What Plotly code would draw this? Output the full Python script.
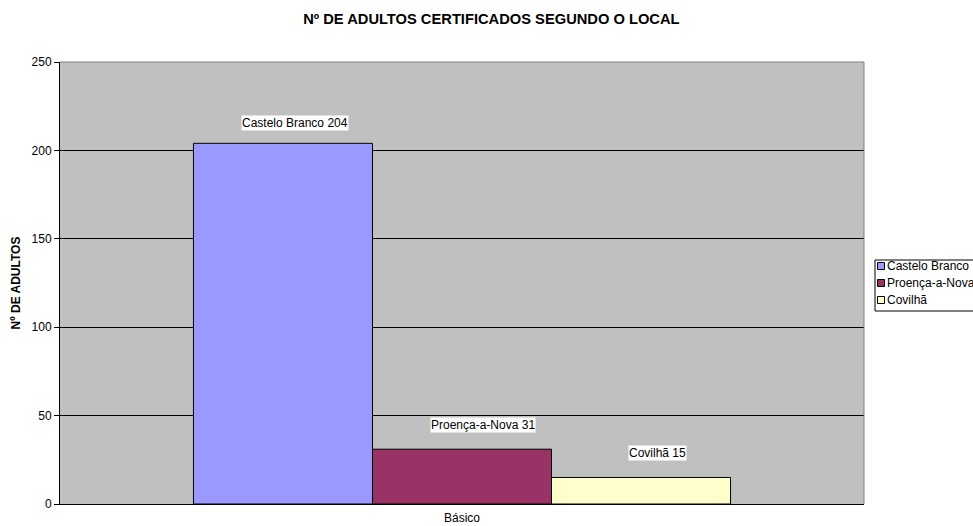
import plotly.graph_objects as go

categories = ["Básico"]
series_names = ["Castelo Branco", "Proença-a-Nova", "Covilhã"]
series_values = [204, 31, 15]
series_colors = ["#9999FF", "#993366", "#FFFFCC"]
y_ticks = [0, 50, 100, 150, 200, 250]

# data-label nudges (pixels) to match the reference placement
label_xshift = [12, 21, 16]
label_yshift = [20, 24, 24]

FONT = "Liberation Sans, Arial, sans-serif"
bargap = 0.332
W, H = 973, 526
ML, MR, MT, MB = 60, 109, 62, 22
PW, PH = W - ML - MR, H - MT - MB


def px(x):
    return (x - ML) / PW


def py(y):
    return (H - MB - y) / PH


fig = go.Figure()
for name, val, col in zip(series_names, series_values, series_colors):
    fig.add_trace(go.Bar(
        x=categories, y=[val], name=name, showlegend=False,
        marker=dict(color=col, line=dict(color="black", width=1)),
    ))

n = len(series_names)
w = (1 - bargap) / n
for i, (name, val) in enumerate(zip(series_names, series_values)):
    fig.add_annotation(
        x=(i - (n - 1) / 2) * w, y=val, xref="x", yref="y",
        text=f"{name} {val}", showarrow=False,
        xshift=label_xshift[i], yshift=label_yshift[i],
        bgcolor="white", font=dict(family=FONT, size=12, color="black"),
        borderpad=0,
    )

# legend (drawn box, clipped at the right edge like the reference)
fig.add_shape(type="rect", xref="paper", yref="paper",
              x0=px(875), x1=px(990), y0=py(311), y1=py(260),
              line=dict(color="black", width=1), fillcolor="white", layer="above")
row_y = [266, 283, 300]
for name, col, ry in zip(series_names, series_colors, row_y):
    fig.add_shape(type="rect", xref="paper", yref="paper",
                  x0=px(877.5), x1=px(884.5), y0=py(ry + 3.5), y1=py(ry - 3.5),
                  line=dict(color="black", width=1), fillcolor=col, layer="above")
    fig.add_annotation(x=px(885), y=py(ry), xref="paper", yref="paper",
                       xanchor="left", yanchor="middle", text=name, showarrow=False,
                       font=dict(family=FONT, size=12, color="black"))

fig.update_layout(
    width=W, height=H,
    barmode="group", bargap=bargap, bargroupgap=0,
    paper_bgcolor="white", plot_bgcolor="#C0C0C0",
    margin=dict(l=ML, r=MR, t=MT, b=MB, autoexpand=False),
    title=dict(text="<b>Nº DE ADULTOS CERTIFICADOS SEGUNDO O LOCAL</b>",
               x=0.505, xanchor="center", y=1 - 19 / H, yanchor="middle",
               font=dict(family=FONT, size=14.7, color="black")),
    font=dict(family=FONT, size=12, color="black"),
    showlegend=False,
    xaxis=dict(type="category", showline=True, linecolor="black", linewidth=1,
               ticks="outside", ticklen=3, tickcolor="rgba(0,0,0,0)",
               showgrid=False,
               tickfont=dict(family=FONT, size=12, color="black")),
    yaxis=dict(range=[0, 250], tickvals=y_ticks, ticks="outside", ticklen=5,
               tickcolor="black", showline=True, linecolor="black", linewidth=1,
               showgrid=True, gridcolor="#000000", gridwidth=1, zeroline=False,
               title=dict(text="<b>Nº DE ADULTOS</b>", standoff=8,
                          font=dict(family=FONT, size=12, color="black")),
               tickfont=dict(family=FONT, size=12, color="black")),
)

# gray border on top and right of plot area
fig.add_shape(type="line", xref="paper", yref="paper", x0=0, x1=1, y0=1, y1=1,
              line=dict(color="#808080", width=1))
fig.add_shape(type="line", xref="paper", yref="paper", x0=1, x1=1, y0=0, y1=1,
              line=dict(color="#808080", width=1))

fig.write_html("out.html", config={"displayModeBar": False},
               post_script="document.body.style.margin='0';document.body.style.overflow='hidden';")
